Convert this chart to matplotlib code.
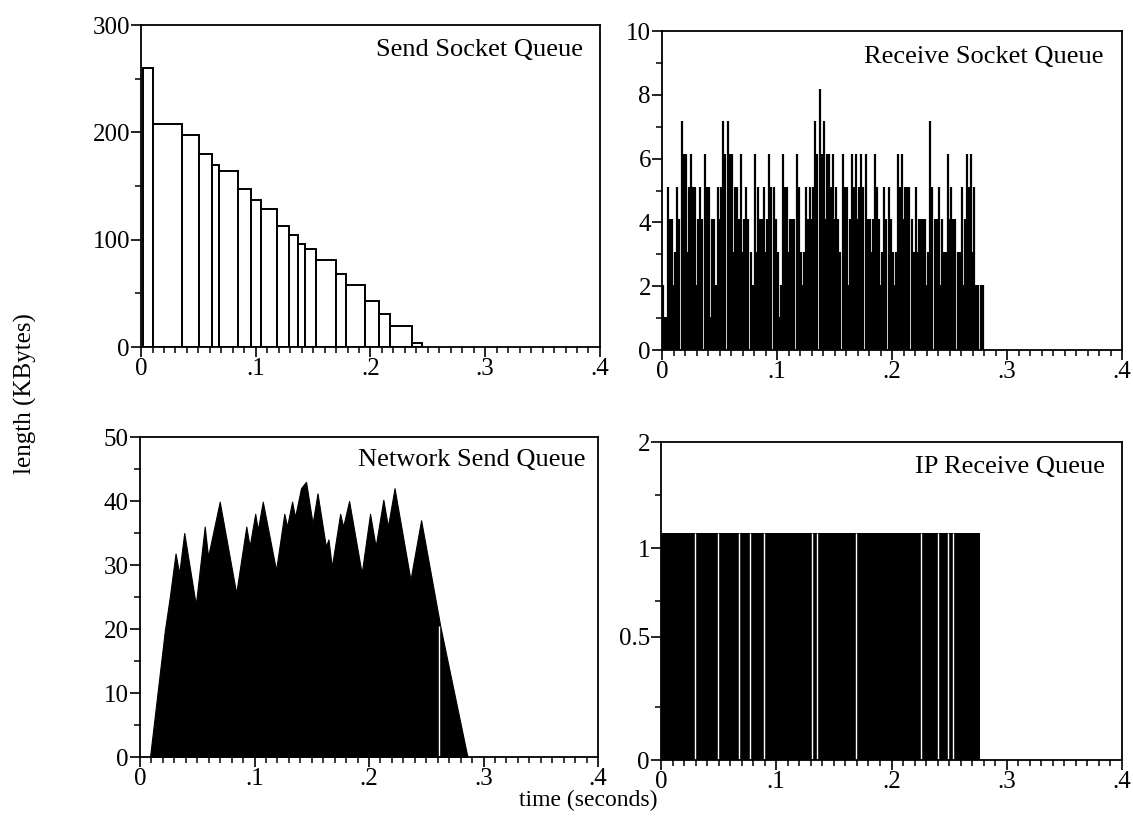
import numpy as np
import matplotlib
matplotlib.use("Agg")
import matplotlib.pyplot as plt
from matplotlib.ticker import MultipleLocator, FixedLocator

plt.rcParams['font.family'] = ['Liberation Serif', 'DejaVu Serif']

# ---- data ----
# Send socket queue: histogram-like steps (time edges, KBytes)
ssq_edges = [0.002, 0.0107, 0.0357, 0.0501, 0.0617, 0.0681, 0.0849, 0.0962, 0.1046,
             0.1188, 0.1287, 0.1368, 0.1426, 0.1525, 0.1696, 0.1786, 0.1951, 0.2072,
             0.2174, 0.2362, 0.2449]
ssq_len = [260, 208, 198, 180, 170, 164, 147, 137, 129, 113, 104, 96, 91, 81, 68,
           58, 43, 31, 20, 4]

# Receive socket queue: per 4 ms slot, solid level / spike levels in packets
rsq_slot = 0.004
pkt_kb = 1.024
rsq_fill = [1, 2, 2, 3, 3, 3, 3, 2, 1, 3, 1, 1, 4, 4, 4, 3, 2, 3, 3, 1, 3, 2, 3, 3,
            3, 1, 3, 3, 3, 3, 2, 2, 4, 4, 4, 4, 4, 4, 2, 3, 2, 4, 4, 3, 2, 3, 4, 2,
            3, 3, 2, 4, 4, 4, 2, 3, 3, 2, 4, 3, 2, 3, 4, 3, 2, 2, 4, 3, 1, 1]
rsq_peak = [2, 5, 4, 5, 7, 6, 6, 5, 5, 6, 5, 4, 5, 7, 7, 6, 5, 6, 5, 3, 6, 4, 5, 6,
            5, 3, 6, 5, 4, 6, 3, 5, 5, 7, 8, 7, 6, 6, 4, 6, 5, 6, 6, 6, 6, 4, 6, 4,
            5, 5, 3, 6, 6, 5, 4, 5, 4, 4, 7, 4, 5, 3, 6, 4, 3, 5, 6, 6, 2, 2]
rsq_mid = [1, 4, 3, 4, 6, 5, 5, 4, 4, 5, 4, 2, 5, 6, 6, 5, 4, 4, 4, 2, 5, 4, 4, 5,
           4, 2, 5, 4, 4, 5, 3, 4, 5, 6, 6, 6, 5, 5, 3, 5, 4, 5, 5, 5, 4, 4, 5, 3,
           4, 4, 3, 5, 5, 5, 3, 4, 4, 3, 5, 4, 4, 3, 5, 4, 3, 4, 5, 5, 2, 2]

# Network send queue: outline of peaks and valleys (time, KBytes)
nsq_t = [0.0087, 0.0217, 0.026, 0.031, 0.0342, 0.0386, 0.0487, 0.0565, 0.0594,
         0.0696, 0.084, 0.0928, 0.0957, 0.1006, 0.1029, 0.1072, 0.1188, 0.126,
         0.1284, 0.1328, 0.1354, 0.1406, 0.145, 0.1507, 0.155, 0.1623, 0.1646,
         0.1675, 0.1748, 0.1774, 0.1826, 0.1936, 0.2009, 0.2058, 0.2125, 0.2165,
         0.2223, 0.2362, 0.2455, 0.2623, 0.286]
nsq_len = [0, 19.8, 25, 31.8, 28.7, 35, 23.8, 36, 31.3, 39.9, 25.6, 36, 32.9, 38,
           35.5, 39.9, 29.2, 38, 36, 39.9, 37.5, 42, 43, 36.5, 41.2, 32.9, 34,
           29.7, 38, 36, 40, 28.7, 38, 32.9, 40.2, 36, 42, 27.7, 37, 20.4, 0]
nsq_gap = 0.261

# IP receive queue: busy block with short empty moments
ipq_end = 0.2768
ipq_len = 1.43
ipq_gaps = [0.0295, 0.0497, 0.068, 0.0772, 0.0894, 0.1307, 0.135, 0.169, 0.226,
            0.240, 0.249, 0.2536]

fs = 18
fig = plt.figure(figsize=(11.33, 8.19), dpi=100)

ax1 = fig.add_axes([0.1245, 0.5763, 0.405, 0.393])
ax2 = fig.add_axes([0.5843, 0.5726, 0.406, 0.3895])
ax3 = fig.add_axes([0.1236, 0.0757, 0.4042, 0.3907])
ax4 = fig.add_axes([0.5834, 0.0720, 0.4069, 0.3883])


def style(ax, ymax, ymaj, ymin):
    ax.set_xlim(0, 0.4)
    ax.set_ylim(0, ymax)
    ax.xaxis.set_major_locator(FixedLocator([0, 0.1, 0.2, 0.3, 0.4]))
    ax.set_xticklabels(['0', '.1', '.2', '.3', '.4'])
    ax.xaxis.set_minor_locator(MultipleLocator(0.01))
    if ymaj is not None:
        ax.yaxis.set_major_locator(MultipleLocator(ymaj))
        ax.yaxis.set_minor_locator(MultipleLocator(ymin))
    ax.tick_params(which='major', direction='out', length=7, width=1.2,
                   labelsize=fs, pad=1)
    ax.tick_params(which='minor', direction='out', length=4, width=1.1)
    for s in ax.spines.values():
        s.set_linewidth(1.3)


# Send Socket Queue
e = np.array(ssq_edges)
ax1.bar(e[:-1], ssq_len, width=np.diff(e), align='edge', facecolor='white',
        edgecolor='black', linewidth=1.4)
style(ax1, 300, 100, 50)
ax1.text(0.963, 0.922, 'Send Socket Queue', transform=ax1.transAxes,
         ha='right', va='center', fontsize=19)

# Receive Socket Queue
n = len(rsq_fill)
tc = np.arange(n) * rsq_slot + rsq_slot / 2
ax2.bar(tc, np.array(rsq_fill) * pkt_kb, width=rsq_slot * 0.93, color='black')
ax2.vlines(tc - 0.0009, 0, np.array(rsq_peak) * pkt_kb, color='black', lw=1.6)
ax2.vlines(tc + 0.0011, 0, np.array(rsq_mid) * pkt_kb, color='black', lw=1.6)
style(ax2, 10, 2, 1)
ax2.text(0.959, 0.918, 'Receive Socket Queue', transform=ax2.transAxes,
         ha='right', va='center', fontsize=19)

# Network Send Queue
ax3.fill_between(nsq_t, nsq_len, color='black', linewidth=0.8)
ax3.vlines(nsq_gap, 0, 20.4, color='white', lw=1.0)
style(ax3, 50, 10, 5)
ax3.text(0.972, 0.928, 'Network Send Queue', transform=ax3.transAxes,
         ha='right', va='center', fontsize=19)

# IP Receive Queue
ax4.fill_between([0, ipq_end], [ipq_len, ipq_len], color='black', linewidth=0)
ax4.vlines(ipq_gaps, 0, ipq_len, color='white', lw=1.0)
style(ax4, 2, None, None)
ax4.yaxis.set_major_locator(FixedLocator([0, 0.775, 1.333, 2]))
ax4.set_yticklabels(['0', '0.5', '1', '2'])
ax4.yaxis.set_minor_locator(FixedLocator([1 / 3, 1.0, 5 / 3]))
ax4.text(0.963, 0.921, 'IP Receive Queue', transform=ax4.transAxes,
         ha='right', va='center', fontsize=19)

fig.text(25 / 1133, 1 - 394 / 819, 'length (KBytes)', rotation=90,
         ha='center', va='center', fontsize=18)
fig.text(588 / 1133, 1 - 800 / 819, 'time (seconds)', ha='center',
         va='center', fontsize=17)

fig.savefig('out.png', dpi=100)
